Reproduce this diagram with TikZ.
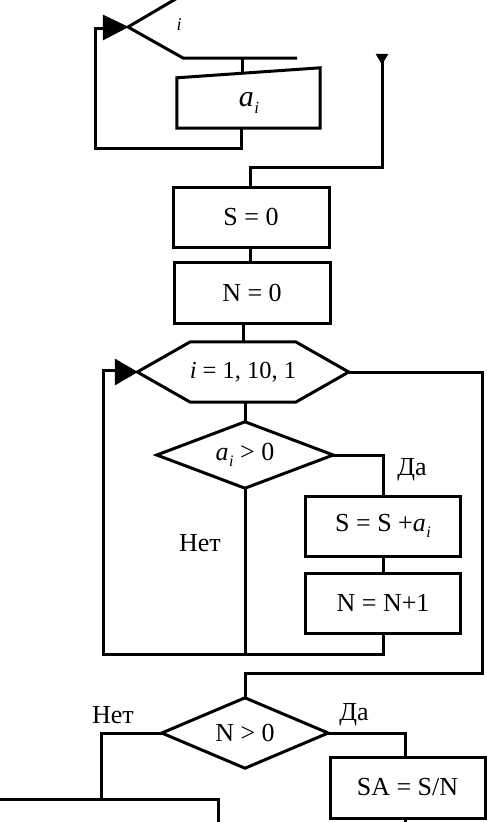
\documentclass[tikz,border=0pt]{standalone}
\usepackage{fontspec}
\setmainfont{Liberation Serif}
\usetikzlibrary{calc}
\newcommand\aisub{\textit{a}\kern0.5pt\raisebox{-0.25em}{\fontsize{16}{18}\selectfont\textit{i}}}
\newcommand\aibig{\textit{a}\kern0.5pt\raisebox{-0.25em}{\fontsize{17}{19}\selectfont\textit{i}}}
\begin{document}
\begin{tikzpicture}[x=1pt,y=-1pt,
  line/.style={line width=3pt, line join=miter},
  txt/.style={font=\fontsize{26}{30}\selectfont, inner sep=0pt},
  box/.style={draw, line width=3pt, rectangle, inner sep=0pt, minimum width=155pt, minimum height=60pt, font=\fontsize{26}{30}\selectfont},
  dia/.style={rectangle, inner sep=0pt, font=\fontsize{26}{30}\selectfont},
  tri/.style={fill=black, draw=black, line width=0.5pt, line join=miter}]
\useasboundingbox (0,0) rectangle (487,822);
\fill[white] (0,0) rectangle (487,822);
\clip (0,0) rectangle (487,822);

% ---- top partial loop (input) ----
\coordinate (ttip) at (128,27);
\coordinate (tup) at (179,-3);
\coordinate (tlow) at (183,58);
\coordinate (tend) at (297,58);
\draw[line] (tup) -- (ttip) -- (tlow) -- (tend);
\filldraw[tri] (103,15) -- (ttip) -- (103,40) -- cycle;
\node[font=\fontsize{18}{20}\selectfont\itshape, inner sep=0pt] (ilab) at (179,25) {i};

\node[inner sep=0pt, minimum width=143pt, minimum height=60pt] (ai) at (248.5,98) {};
\draw[line] ([yshift=-10pt]ai.north west) -- (ai.north east) -- (ai.south east) -- (ai.south west) -- cycle;
\node[font=\fontsize{30}{33}\selectfont, inner sep=0pt] (aitext) at (249,103) {\aibig};
\coordinate (tbar) at (242,58);
\draw[line] (tbar) -- ++(0,15.5);
\coordinate (tloop) at (95,28);
\draw[line] (241,128) -- (241,148) -- (95,148) -- (tloop) -- (104,28);

% ---- entry line from the right ----
\coordinate (rtop) at (382,57);
\filldraw[tri] (376,54) -- (388,54) -- (382,64) -- cycle;

% ---- S = 0, N = 0 ----
\node[box, minimum width=156pt] (s0) at (251,217) {S = 0};
\node[box, minimum width=156pt, minimum height=61pt] (n0) at (252,292.5) {N = 0};
\draw[line] (rtop) -- (382,167) -- (250,167) -- (250,0 |- s0.north);
\draw[line] (250,0 |- s0.south) -- (250,0 |- n0.north);

% ---- loop hexagon ----
\node[inner sep=0pt, minimum width=211pt, minimum height=60pt, font=\fontsize{24.5}{28}\selectfont] (hex) at (243,372) {\textit{i} = 1, 10, 1};
\draw[line] (hex.west) -- ([xshift=53pt]hex.north west) -- ([xshift=-53pt]hex.north east) -- (hex.east)
  -- ([xshift=-53pt]hex.south east) -- ([xshift=53pt]hex.south west) -- cycle;
\draw[line] (hex.north) -- (hex.north |- n0.south);
\filldraw[tri] (115,359) -- (hex.west) -- (115,385) -- cycle;

% ---- condition a_i > 0 ----
\node[dia, minimum width=176pt, minimum height=66pt] (d1) at (245,455) {\aisub\ > 0};
\draw[line] (d1.north) -- (d1.east) -- (d1.south) -- (d1.west) -- cycle;
\draw[line] (d1.north) -- (d1.north |- hex.south);
\node[box] (s1) at (383,526) {S = S +\aisub};
\node[box] (n1) at (383,603) {N = N+1};
\draw[line] (d1.east) -- (383,455) -- (s1.north);
\draw[line] (s1.south) -- (n1.south |- s1.south) -- (n1.north);
\coordinate (lpcorner) at (103,654);
\draw[line] (n1.south) -- (383,654) -- (lpcorner) -- (103,370) -- (116,370);
\draw[line] (d1.south) -- (d1.south |- lpcorner);
\node[txt] (yes1) at (412,470) {Да};
\node[txt] (no1) at (200,543) {Нет};

% ---- condition N > 0 ----
\node[dia, minimum width=166pt, minimum height=70pt] (d2) at (245,733) {N > 0};
\draw[line] (d2.north) -- (d2.east) -- (d2.south) -- (d2.west) -- cycle;
\draw[line] (hex.east) -- (482,372) -- (482,673) -- (245,673) -- (d2.north);
\node[box, minimum height=61pt] (sa) at (407.5,787.5) {SA = S/N};
\draw[line] (d2.east) -- (405,733) -- (405,0 |- sa.north);
\draw[line] (405,0 |- sa.south) -- (405,830);
\coordinate (blbox) at (218,799);
\draw[line] (d2.west) -- (101,733) -- (101,799);
\draw[line] (-5,799) -- (blbox) -- (218,830);
\node[txt] (no2) at (113,715) {Нет};
\node[txt] (yes2) at (354,715) {Да};
\end{tikzpicture}
\end{document}
